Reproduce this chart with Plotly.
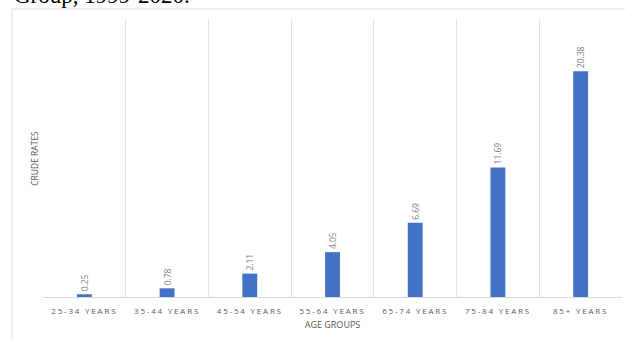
import plotly.graph_objects as go

categories = ["25-34 YEARS", "35-44 YEARS", "45-54 YEARS", "55-64 YEARS",
              "65-74 YEARS", "75-84 YEARS", "85+ YEARS"]
rates = [0.25, 0.78, 2.11, 4.05, 6.69, 11.69, 20.38]
rate_labels = ["0.25", "0.78", "2.11", "4.05", "6.69", "11.69", "20.38"]

W, H = 625, 340
ml, mr, mt, mb = 43, 3, 20, 43
pw, ph = W - ml - mr, H - mt - mb

def px_x(p):
    return (p - ml) / pw

def px_y(p):
    return 1 - (p - mt) / ph

fig = go.Figure(go.Bar(
    x=categories, y=rates, width=0.18,
    marker=dict(color="#4472C4", line=dict(width=0)),
    text=rate_labels, textposition="outside", textangle=-90,
    constraintext="none",
    textfont=dict(family="Open Sans", size=8.5, color="#7f7f7f"),
    cliponaxis=False,
))

fig.update_layout(
    width=W, height=H,
    margin=dict(l=ml, r=mr, t=mt, b=mb),
    paper_bgcolor="white", plot_bgcolor="white",
    showlegend=False,
    xaxis=dict(
        tickson="boundaries", showgrid=True, gridcolor="#e2e2e2", gridwidth=1,
        showline=True, linecolor="#d9d9d9", ticks="", ticklabelstandoff=6,
        tickfont=dict(family="Open Sans", size=8, color="#595959"),
        title=dict(text="AGE GROUPS", standoff=7,
                   font=dict(family="Open Sans", size=9, color="#595959")),
    ),
    yaxis=dict(
        range=[0, 25], showgrid=False, showticklabels=False, zeroline=False,
        showline=False, ticks="",
        title=dict(text="CRUDE RATES", standoff=2,
                   font=dict(family="Open Sans", size=8.5, color="#595959")),
    ),
    annotations=[dict(
        text="Group, 1999-2020.", xref="paper", yref="paper",
        x=px_x(12), y=px_y(10), xanchor="left", yanchor="bottom",
        showarrow=False, font=dict(family="Liberation Serif", size=23, color="black"),
    )],
    shapes=[dict(
        type="rect", xref="paper", yref="paper",
        x0=px_x(12), x1=px_x(640), y0=px_y(360), y1=px_y(9),
        line=dict(color="#d9d9d9", width=1), fillcolor="rgba(0,0,0,0)", layer="below",
    )],
)

post = """
var s = document.createElement('style');
s.textContent = '.xtick text{letter-spacing:1.8px;}';
document.head.appendChild(s);
"""

fig.write_html("out.html", post_script=post)
